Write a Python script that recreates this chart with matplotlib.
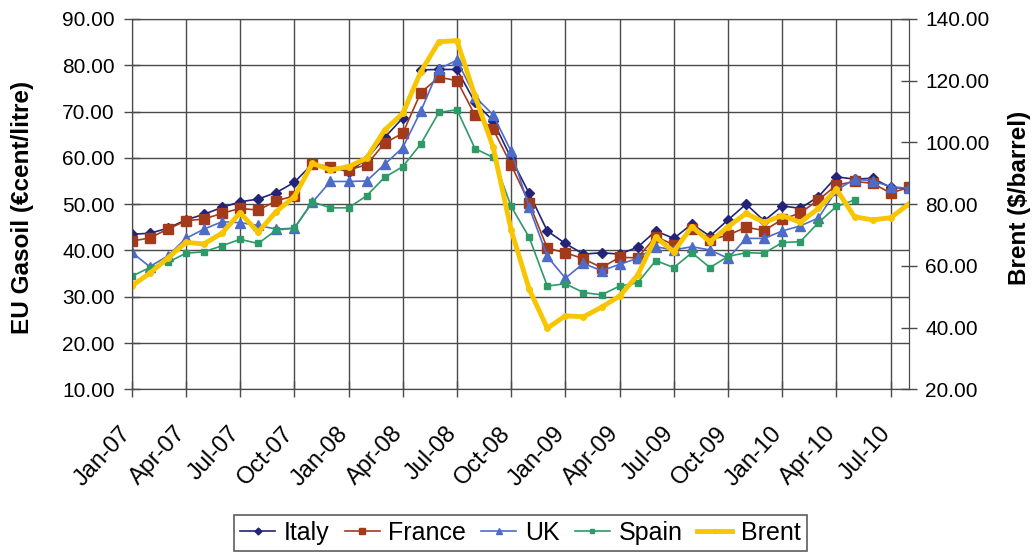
import matplotlib
matplotlib.use('Agg')
import matplotlib.pyplot as plt
import matplotlib.transforms as mtrans
import numpy as np

plt.rcParams['font.family'] = ['Liberation Sans', 'DejaVu Sans']

# monthly, Jan-07 .. Aug-10
months = ['Jan', 'Feb', 'Mar', 'Apr', 'May', 'Jun',
          'Jul', 'Aug', 'Sep', 'Oct', 'Nov', 'Dec']
dates = [f'{m}-{y:02d}' for y in range(7, 11) for m in months][:44]

italy = [43.5, 43.7, 44.8, 46.6, 47.8, 49.3, 50.5, 51.1, 52.5, 54.7, 58.7, 58.0,
         57.0, 59.7, 64.4, 68.6, 79.0, 79.1, 79.1, 72.0, 68.0, 59.9, 52.3, 44.2,
         41.5, 39.2, 39.5, 39.2, 40.7, 44.2, 42.6, 45.7, 43.1, 46.6, 50.0, 46.4,
         49.6, 49.1, 51.6, 55.9, 55.4, 55.6, 53.6, 53.4]
france = [42.0, 42.7, 44.6, 46.4, 46.8, 48.0, 49.1, 48.7, 50.7, 51.8, 58.7, 58.1,
          57.4, 58.5, 63.2, 65.3, 74.1, 77.4, 76.7, 69.2, 66.2, 58.5, 50.2, 40.5,
          39.5, 38.2, 36.3, 38.5, 38.4, 43.0, 41.2, 44.6, 42.3, 43.3, 45.0, 44.3,
          46.7, 48.1, 50.9, 54.1, 54.9, 54.5, 52.4, 53.6]
uk = [39.6, 36.5, 38.8, 42.6, 44.6, 46.2, 46.0, 45.4, 44.6, 44.8, 50.4, 54.9,
      54.9, 55.0, 58.6, 62.2, 70.1, 79.2, 81.1, 73.2, 69.3, 61.4, 49.3, 38.7,
      34.0, 37.2, 35.6, 37.0, 38.3, 40.8, 40.1, 40.8, 40.1, 38.3, 42.6, 42.6,
      44.2, 45.3, 47.0, 53.0, 55.4, 55.0, 53.8, 53.4]
spain = [34.4, 36.3, 37.4, 39.4, 39.7, 41.0, 42.4, 41.5, 44.4, 44.8, 50.5, 49.2,
         49.2, 51.8, 55.8, 58.1, 63.0, 69.8, 70.4, 62.0, 60.1, 49.5, 42.8, 32.3,
         32.8, 30.9, 30.4, 32.3, 33.0, 37.8, 36.3, 39.5, 36.3, 38.7, 39.5, 39.4,
         41.7, 41.9, 46.0, 49.5, 50.9, None, None, None]
brent = [53.5, 57.6, 62.5, 67.6, 67.1, 70.6, 77.2, 70.9, 77.6, 82.4, 93.2, 91.1,
         92.1, 94.9, 104.0, 109.4, 122.9, 132.6, 133.0, 115.0, 98.5, 71.6, 52.4, 39.8,
         43.8, 43.5, 46.6, 50.2, 57.0, 69.3, 64.6, 72.7, 67.8, 72.7, 77.0, 74.1,
         76.3, 74.1, 78.6, 84.8, 75.9, 74.9, 75.6, 80.0]

x = np.arange(len(dates))
spain_arr = np.array([np.nan if v is None else v for v in spain])

fig = plt.figure(figsize=(10.35, 5.57), dpi=100)
ax = fig.add_axes([0.1272, 0.3011, 0.7508, 0.6648])
ax2 = ax.twinx()

grid_c = '#4a4a4a'
ax.set_xlim(0, len(dates) - 1)
ax.set_ylim(10, 90)
ax.set_yticks(np.arange(10, 91, 10))
ax.set_xticks(x[::3])
ax.set_xticklabels(dates[::3], rotation=47, ha='right', va='top',
                   rotation_mode='anchor', fontsize=17)
ax.yaxis.set_major_formatter(matplotlib.ticker.FormatStrFormatter('%.2f'))
ax.grid(True, color=grid_c, linewidth=1.0)
ax.tick_params(axis='both', direction='inout', length=12, color=grid_c, width=1)
ax.tick_params(axis='y', labelsize=15, pad=6)
ax.tick_params(axis='x', pad=18)

# shift rotated date labels a little to the left, like the original
shift = mtrans.ScaledTranslation(-0.12, 0, fig.dpi_scale_trans)
for lbl in ax.get_xticklabels():
    lbl.set_transform(lbl.get_transform() + shift)

l1, = ax.plot(x, italy, color='#232378', marker='D', markersize=5, lw=1.2,
              label='Italy')
l2, = ax.plot(x, france, color='#A33A1C', marker='s', markersize=7, lw=1.2,
              label='France')
l3, = ax.plot(x, uk, color='#4D6CC8', marker='^', markersize=7, lw=1.2,
              label='UK')
l4, = ax.plot(x, spain_arr, color='#2E9A68', marker='s', markersize=4, lw=1.2,
              label='Spain')

ax2.set_ylim(20, 140)
ax2.set_yticks(np.arange(20, 141, 20))
ax2.yaxis.set_major_formatter(matplotlib.ticker.FormatStrFormatter('%.2f'))
ax2.tick_params(axis='y', direction='inout', length=12, color=grid_c,
                labelsize=15, width=1, pad=6)
l5, = ax2.plot(x, brent, color='#F7C600', marker='o', markersize=4, lw=3.5,
               label='Brent')

for a in (ax, ax2):
    for s in a.spines.values():
        s.set_color(grid_c)

ax.set_ylabel('EU Gasoil (€cent/litre)', fontsize=17.5, fontweight='bold',
              va='center', ha='center')
ax2.set_ylabel('Brent ($/barrel)', fontsize=17.5, fontweight='bold',
               va='center', ha='center')
ax.yaxis.set_label_coords(-0.141, 0.492)
ax2.yaxis.set_label_coords(1.142, 0.518)

leg = fig.legend(handles=[l1, l2, l3, l4, l5], loc='center',
                 bbox_to_anchor=(0.503, 0.043), ncol=5, fontsize=18,
                 frameon=True, fancybox=False, edgecolor='#333333',
                 handlelength=1.4, handletextpad=0.35, columnspacing=0.6,
                 borderpad=0.25, markerscale=0.7)
leg.get_frame().set_linewidth(1.2)

fig.savefig('out.png', dpi=100)
